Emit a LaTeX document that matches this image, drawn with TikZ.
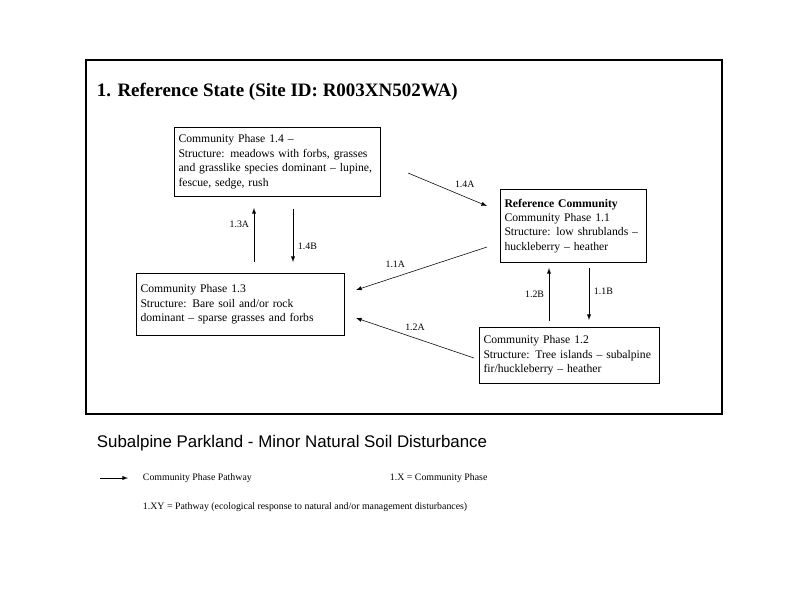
\documentclass[tikz,border=0pt]{standalone}
\usepackage{fontspec}
\setmainfont{Liberation Serif}
\usetikzlibrary{arrows}

\begin{document}
\begin{tikzpicture}[x=0.025cm,y=-0.025cm,
    phase/.style={draw,anchor=north west,align=left,inner sep=3pt,font=\fontsize{8.3}{10.3}\selectfont},
    path/.style={-latex,thin},
    lbl/.style={font=\fontsize{7}{8}\selectfont}]
  \useasboundingbox (0,0) rectangle (800,600);
  \draw[line width=1.2pt] (86,60) rectangle (722,414);
  \node[anchor=west,font=\fontsize{13.5}{15}\bfseries] (title) at (92,92) {1. Reference State (Site ID: R003XN502WA)};
  % community phases
  \node[phase,text width=198\pgflinewidth*0+4.95cm,minimum height=1.73cm] (p14) at (174,127)
    {Community Phase 1.4 --\\Structure: meadows with forbs, grasses\\and grasslike species dominant -- lupine,\\fescue, sedge, rush};
  \node[phase,text width=3.45cm,minimum height=1.83cm] (p11) at (500,189)
    {\textbf{Reference Community}\\Community Phase 1.1\\Structure: low shrublands --\\huckleberry -- heather};
  \node[phase,text width=5.0cm,minimum height=1.55cm] (p13) at (136,273)
    {Community Phase 1.3\\Structure: Bare soil and/or rock\\dominant -- sparse grasses and forbs};
  \node[phase,text width=4.3cm,minimum height=1.4cm] (p12) at (479,327)
    {Community Phase 1.2\\Structure: Tree islands -- subalpine\\fir/huckleberry -- heather};
  % pathways
  \coordinate (a1) at (408,173); \coordinate (a2) at (487,206);
  \draw[path] (a1) -- (a2) node[lbl,pos=0.55,above right=-1pt] {1.4A};
  \coordinate (b1) at (254,262); \coordinate (b2) at (254,208);
  \draw[path] (b1) -- (b2) node[lbl,pos=0.7,left] {1.3A};
  \coordinate (c1) at (293,209); \coordinate (c2) at (293,262);
  \draw[path] (c1) -- (c2) node[lbl,pos=0.7,right] {1.4B};
  \coordinate (d1) at (487,247); \coordinate (d2) at (356,290);
  \draw[path] (d1) -- (d2) node[lbl,pos=0.7,above=3pt] {1.1A};
  \coordinate (e1) at (474,358); \coordinate (e2) at (356,318);
  \draw[path] (e1) -- (e2) node[lbl,pos=0.5,above=2pt] {1.2A};
  \coordinate (f1) at (549,321); \coordinate (f2) at (549,268);
  \draw[path] (f1) -- (f2) node[lbl,pos=0.5,left] {1.2B};
  \coordinate (g1) at (589,268); \coordinate (g2) at (589,320);
  \draw[path] (g1) -- (g2) node[lbl,pos=0.45,right] {1.1B};
  % caption and legend
  \node[anchor=west,font=\fontsize{12}{14}\selectfont\sffamily] (cap) at (92,443)
    {\fontspec{Liberation Sans}Subalpine Parkland - Minor Natural Soil Disturbance};
  \coordinate (k1) at (100,478); \coordinate (k2) at (128,478);
  \draw[path] (k1) -- (k2);
  \node[lbl,anchor=west] (key1) at (138,478) {Community Phase Pathway};
  \node[lbl,anchor=west] (key2) at (385,478) {1.X = Community Phase};
  \node[lbl,anchor=west] (key3) at (138,507) {1.XY = Pathway (ecological response to natural and/or management disturbances)};
\end{tikzpicture}
\end{document}
